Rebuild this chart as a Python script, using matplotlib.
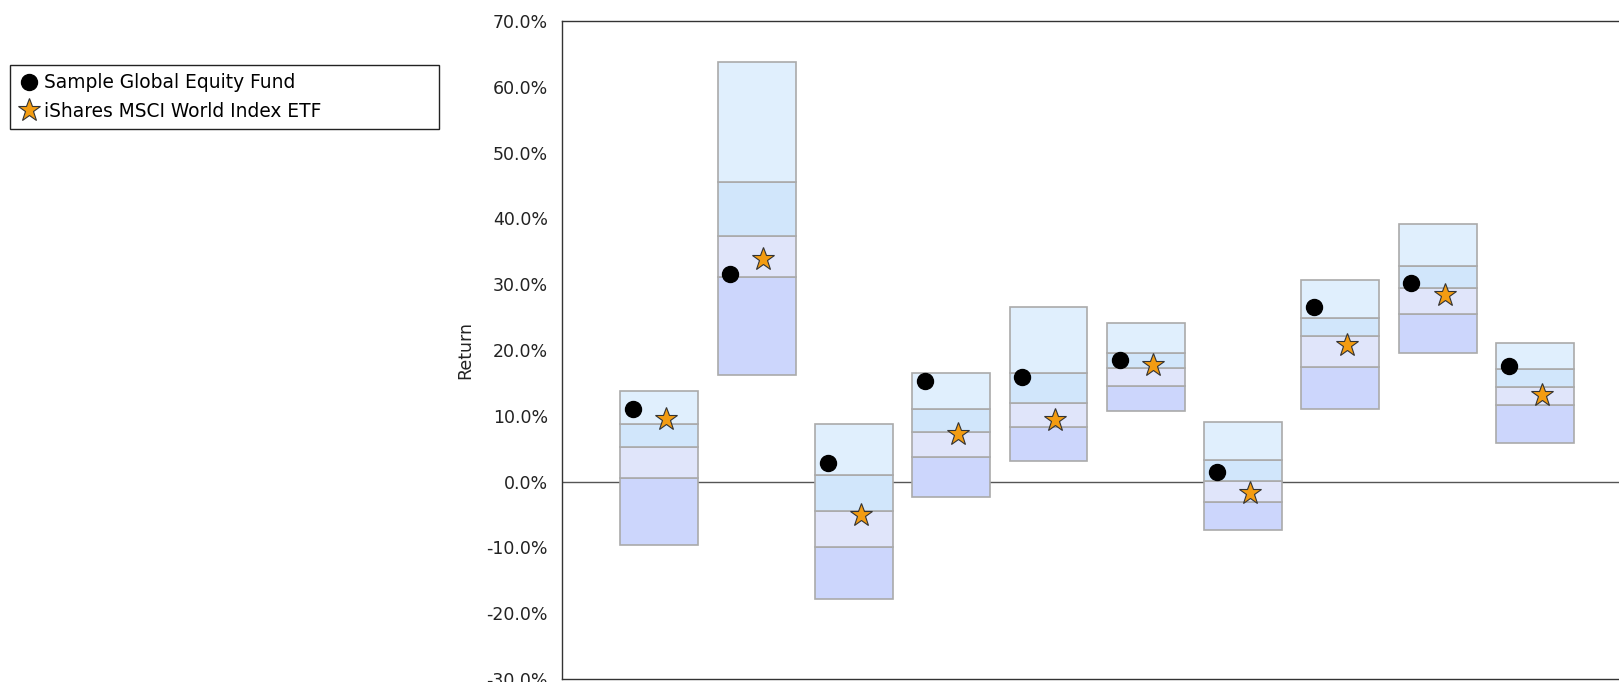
import matplotlib
matplotlib.use("Agg")
import matplotlib.pyplot as plt
from matplotlib.lines import Line2D
from matplotlib.ticker import FuncFormatter

# ===== DATA (percent) =====
periods = list(range(1, 11))
pct_low = [-9.6, 16.2, -17.8, -2.4, 3.2, 10.8, -7.4, 11.0, 19.6, 5.8]
pct_q1 = [0.5, 31.1, -9.9, 3.8, 8.25, 14.6, -3.1, 17.4, 25.4, 11.6]
pct_med = [5.2, 37.4, -4.4, 7.5, 12.0, 17.3, 0.1, 22.2, 29.4, 14.4]
pct_q3 = [8.75, 45.5, 1.0, 11.0, 16.5, 19.5, 3.3, 24.9, 32.7, 17.1]
pct_high = [13.8, 63.7, 8.7, 16.5, 26.5, 24.1, 9.1, 30.7, 39.1, 21.0]

fund_returns = [11.1, 31.5, 2.8, 15.3, 15.9, 18.5, 1.5, 26.6, 30.2, 17.6]
etf_returns = [9.5, 33.9, -5.1, 7.2, 9.4, 17.7, -1.8, 20.8, 28.3, 13.1]

fund_name = "Sample Global Equity Fund"
etf_name = "iShares MSCI World Index ETF"

band_colors = ["#ccd6fc", "#e0e5fa", "#d1e6fb", "#e0effd"]

# ===== FIGURE =====
W, H = 1619, 682
fig = plt.figure(figsize=(W / 100, H / 100), dpi=100)
ax = fig.add_axes([562 / W, 1 - 679 / H, (W - 562) / W, (679 - 21) / H])

bands = [pct_low, pct_q1, pct_med, pct_q3, pct_high]
for k in range(4):
    bottoms = bands[k]
    heights = [t - b for t, b in zip(bands[k + 1], bands[k])]
    ax.bar(periods, heights, bottom=bottoms, width=0.8,
           color=band_colors[k], edgecolor="#aaaaaa", linewidth=1.2, zorder=2)

ax.axhline(0, color="#555555", lw=1.0, zorder=1)

ax.plot([p - 0.27 for p in periods], fund_returns, "o", color="black",
        ms=11.5, ls="none", zorder=4)
ax.plot([p + 0.07 for p in periods], etf_returns, "*", color="#f39c12",
        mec="#333333", mew=0.8, ms=17, ls="none", zorder=4)

ax.set_xlim(0, (W - 562) / 97.3)
ax.set_ylim(-30, 70)
ax.set_yticks(range(-30, 71, 10))
ax.yaxis.set_major_formatter(FuncFormatter(lambda v, p: f"{v:.1f}%"))
ax.set_xticks([])
ax.tick_params(axis="y", length=0, pad=10, labelsize=12.5, colors="#222222")

for side in ["left", "top", "bottom"]:
    ax.spines[side].set_color("#333333")
    ax.spines[side].set_linewidth(1.0)
ax.spines["right"].set_visible(False)

ax.set_ylabel("Return", fontsize=12.5, color="#222222")
ax.yaxis.set_label_coords((474 - 562) / (W - 562), 0.5)

handles = [
    Line2D([], [], marker="o", color="black", ls="none", ms=11.5),
    Line2D([], [], marker="*", color="#f39c12", mec="#333333", mew=0.8,
           ls="none", ms=17),
]
leg = fig.legend(handles, [fund_name, etf_name], loc="upper left",
                 bbox_to_anchor=(10 / W, 1 - 131 / H, 429 / W, 66 / H),
                 mode="expand", borderaxespad=0, fancybox=False,
                 framealpha=1, edgecolor="#222222", fontsize=13.4,
                 handlelength=1.1, handletextpad=0.28, borderpad=0.45,
                 labelspacing=0.5)
leg.get_frame().set_linewidth(1.0)

fig.savefig("out.png", dpi=100)
